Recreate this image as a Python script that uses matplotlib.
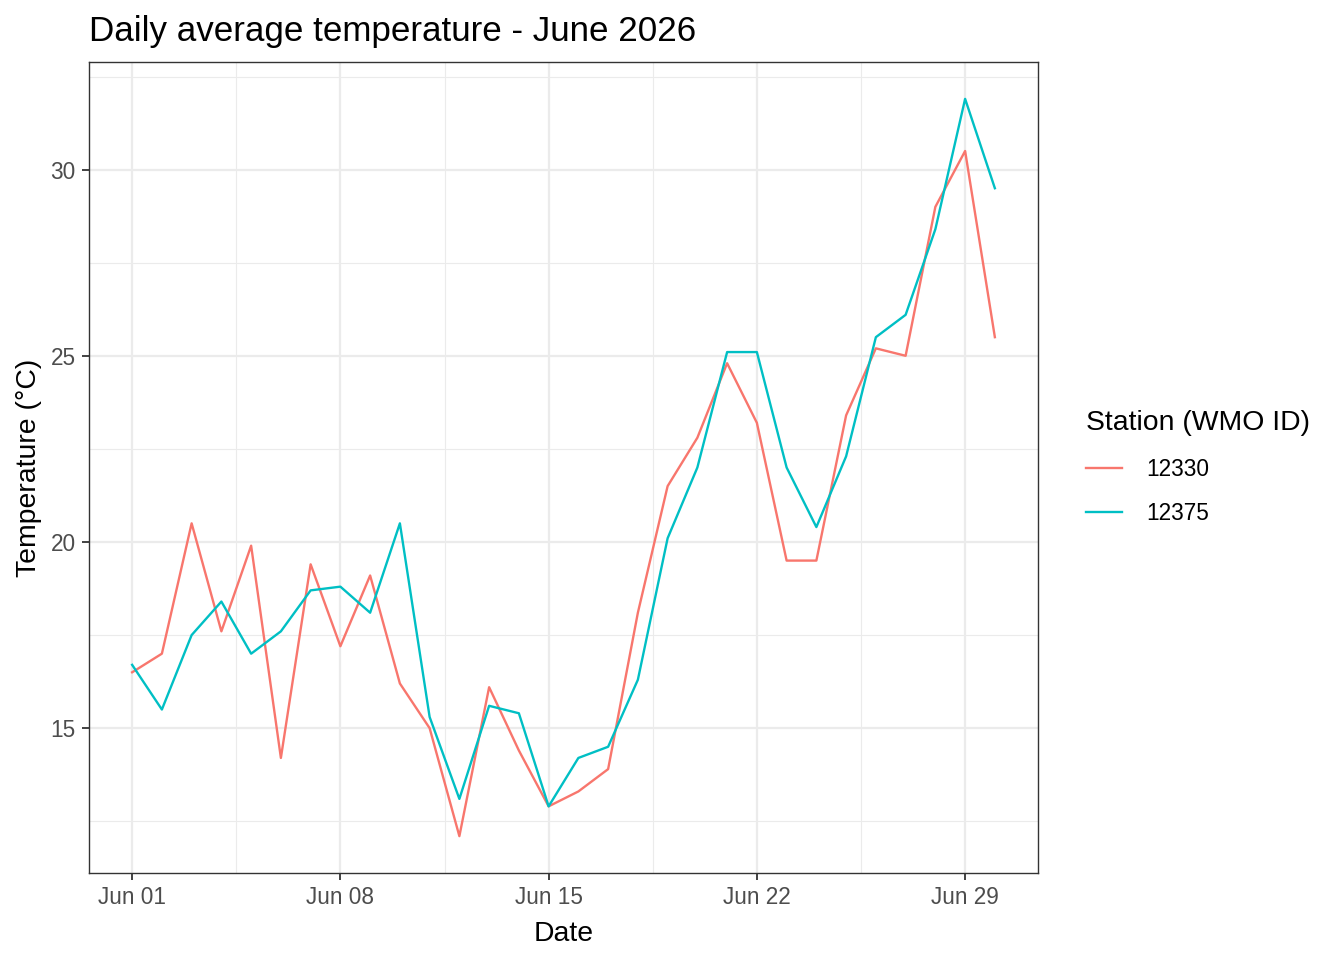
import numpy as np
import matplotlib
matplotlib.use("Agg")
import matplotlib.pyplot as plt
import matplotlib.dates as mdates
from matplotlib.ticker import MultipleLocator, FixedLocator

plt.rcParams['font.family'] = ['Liberation Sans', 'DejaVu Sans']

# daily average temperature, June 2026
days = np.arange(np.datetime64('2026-06-01'), np.datetime64('2026-07-01'))
t_12330 = [16.5, 17.0, 20.5, 17.6, 19.9, 14.2, 19.4, 17.2, 19.1, 16.2,
           15.0, 12.1, 16.1, 14.4, 12.9, 13.3, 13.9, 18.1, 21.5, 22.8,
           24.8, 23.2, 19.5, 19.5, 23.4, 25.2, 25.0, 29.0, 30.5, 25.5]
t_12375 = [16.7, 15.5, 17.5, 18.4, 17.0, 17.6, 18.7, 18.8, 18.1, 20.5,
           15.3, 13.1, 15.6, 15.4, 12.9, 14.2, 14.5, 16.3, 20.1, 22.0,
           25.1, 25.1, 22.0, 20.4, 22.3, 25.5, 26.1, 28.4, 31.9, 29.5]
stations = ['12330', '12375']
colors = ['#F8766D', '#00BFC4']

fig = plt.figure(figsize=(13.44, 9.6), dpi=100)
ax = fig.add_axes([89 / 1344, 87 / 960, 949 / 1344, 811 / 960])

x = mdates.date2num(days.astype('datetime64[D]').astype(object))
for vals, name, col in zip([t_12330, t_12375], stations, colors):
    ax.plot(x, vals, color=col, lw=1.7, label=name)

ax.margins(x=0.05, y=0.05)

# ggplot-like grid
major_x = x[::7]
minor_x = major_x[:-1] + 3.5
ax.xaxis.set_major_locator(FixedLocator(major_x))
ax.xaxis.set_minor_locator(FixedLocator(minor_x))
ax.xaxis.set_major_formatter(mdates.DateFormatter('%b %d'))
ax.yaxis.set_major_locator(MultipleLocator(5))
ax.yaxis.set_minor_locator(MultipleLocator(2.5))

ax.grid(which='major', color='#EBEBEB', lw=1.6)
ax.grid(which='minor', color='#EBEBEB', lw=0.8)
ax.set_axisbelow(True)
for s in ax.spines.values():
    s.set_color('#333333')
    s.set_linewidth(1.0)

ax.tick_params(which='major', length=5.2, width=1.3, color='#333333',
               labelsize=16.3, labelcolor='#4D4D4D', pad=4.5)
ax.tick_params(which='minor', length=0)

ax.set_title('Daily average temperature - June 2026', loc='left',
             fontsize=25.2, pad=15)
ax.set_xlabel('Date', fontsize=20.4, labelpad=8)
ax.set_ylabel('Temperature (°C)', fontsize=20.4, labelpad=6)

leg = ax.legend(title='Station (WMO ID)', loc='center left',
                bbox_to_anchor=(1.029, 0.5), frameon=False,
                fontsize=16.3, title_fontsize=20.4, handlelength=1.6,
                handletextpad=1.05, labelspacing=0.95, alignment='left',
                borderaxespad=0.5)

fig.savefig('out.png', dpi=100)
